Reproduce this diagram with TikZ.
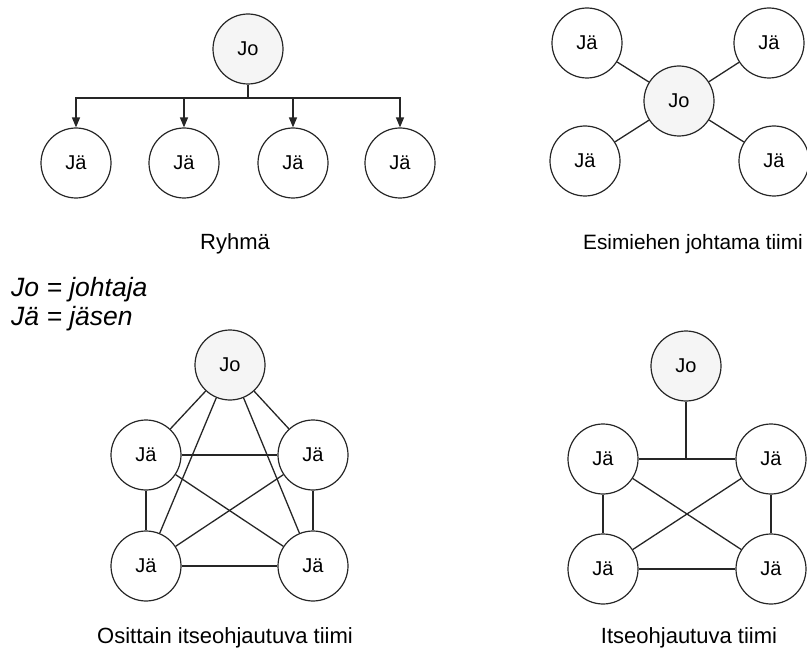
\documentclass[tikz,border=0pt]{standalone}
\usepackage{fontspec}
\setmainfont{Liberation Sans}
\usetikzlibrary{arrows.meta}
\begin{document}
\begin{tikzpicture}[x=1pt,y=-1pt,
  member/.style={circle,draw=black!85,line width=1.2pt,minimum size=70pt,inner sep=0pt,font=\fontsize{20}{22}\selectfont},
  leader/.style={member,fill=black!4},
  link/.style={draw=black!85,line width=1.3pt},
  arr/.style={link,-{Triangle[length=10pt,width=8pt]}},
  caption/.style={font=\fontsize{22}{26}\selectfont,anchor=base,inner sep=0pt},
  legend/.style={font=\fontsize{26.5}{29}\selectfont\itshape,anchor=base west,inner sep=0pt}]
\useasboundingbox (0,0) rectangle (807,650);

% --- Ryhma (top left)
\node[leader] (a0) at (248,49) {Jo};
\node[member] (a1) at (76,163) {Jä};
\node[member] (a2) at (184,163) {Jä};
\node[member] (a3) at (293,163) {Jä};
\node[member] (a4) at (400,163) {Jä};
\coordinate (abar) at (248,98);
\draw[link] (a0.south) -- (abar);
\draw[arr] (abar) -| (a1.north);
\draw[arr] (abar) -| (a4.north);
\draw[arr] (a2.north |- abar) -- (a2.north);
\draw[arr] (a3.north |- abar) -- (a3.north);
\node[caption] (capa) at (235,250) {Ryhmä};

% --- Esimiehen johtama tiimi (top right)
\node[leader] (b0) at (679,101) {Jo};
\node[member] (b1) at (587,43) {Jä};
\node[member] (b2) at (769,43) {Jä};
\node[member] (b3) at (585,161) {Jä};
\node[member] (b4) at (774,161) {Jä};
\foreach \i in {1,...,4} \draw[link] (b0) -- (b\i);
\node[caption,font=\fontsize{20.8}{24}\selectfont] (capb) at (693,250) {Esimiehen johtama tiimi};

% --- Legend
\node[legend] (leg1) at (11,297) {Jo = johtaja};
\node[legend] (leg2) at (11,326) {Jä = jäsen};

% --- Osittain itseohjautuva tiimi (bottom left)
\node[leader] (c0) at (230,365) {Jo};
\node[member] (c1) at (146,455) {Jä};
\node[member] (c2) at (313,455) {Jä};
\node[member] (c3) at (146,566) {Jä};
\node[member] (c4) at (313,566) {Jä};
\draw[link] (c0) -- (c1);
\draw[link] (c0) -- (c2);
\draw[link] (c0) -- (c3);
\draw[link] (c0) -- (c4);
\draw[link] (c1) -- (c2);
\draw[link] (c1) -- (c3);
\draw[link] (c1) -- (c4);
\draw[link] (c2) -- (c3);
\draw[link] (c2) -- (c4);
\draw[link] (c3) -- (c4);
\node[caption] (capc) at (225,643) {Osittain itseohjautuva tiimi};

% --- Itseohjautuva tiimi (bottom right)
\node[leader] (d0) at (686,366) {Jo};
\node[member] (d1) at (603,459) {Jä};
\node[member] (d2) at (771,459) {Jä};
\node[member] (d3) at (603,569) {Jä};
\node[member] (d4) at (771,569) {Jä};
\draw[link] (d1) -- (d2);
\draw[link] (d0.south) -- (d0.south |- d1);
\draw[link] (d1) -- (d3);
\draw[link] (d2) -- (d4);
\draw[link] (d3) -- (d4);
\draw[link] (d1) -- (d4);
\draw[link] (d2) -- (d3);
\node[caption] (capd) at (689,643) {Itseohjautuva tiimi};
\end{tikzpicture}
\end{document}
